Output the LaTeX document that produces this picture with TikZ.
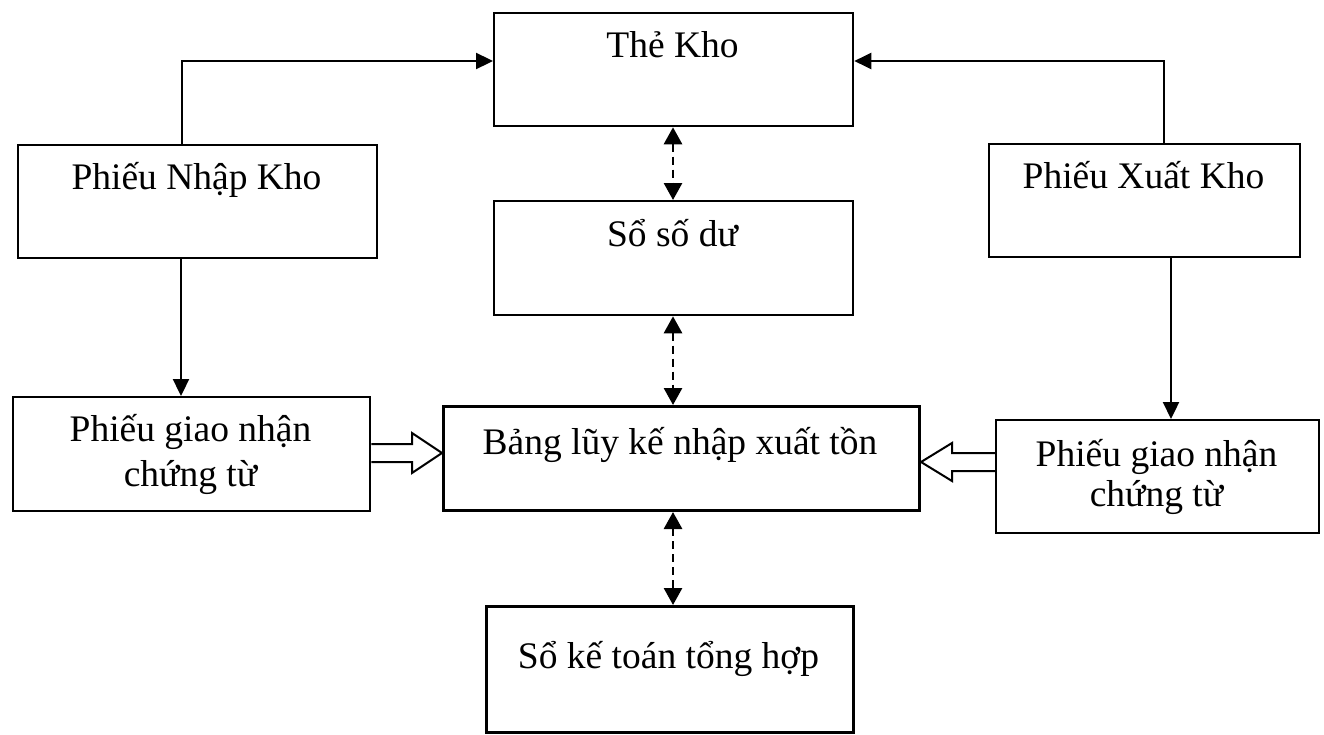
\documentclass[tikz,border=0pt]{standalone}
\usepackage{fontspec}
\setmainfont{Liberation Serif}
\usetikzlibrary{arrows.meta,calc}
\begin{document}
\begin{tikzpicture}[x=1pt,y=-1pt,
  box/.style={draw,line width=2.3pt,rectangle,inner sep=0pt,anchor=north west},
  heavy/.style={line width=3pt},
  lbl/.style={font=\fontsize{37.5}{44}\selectfont,anchor=base,inner sep=0pt},
  arr/.style={line width=2.3pt,-{Triangle[length=17pt,width=16pt]}},
  darr/.style={line width=2.8pt,dash pattern=on 8pt off 5pt,
    {Triangle[length=17pt,width=18pt]}-{Triangle[length=17pt,width=18pt]}},
  hollow/.style={draw,line width=2pt,line join=miter}]
\useasboundingbox (0,0) rectangle (1324,734);

% boxes
\node[box,minimum width=359pt,minimum height=113pt] (tk)   at (493,12)  {};
\node[box,minimum width=359pt,minimum height=113pt] (pnk)  at (17,144)  {};
\node[box,minimum width=311pt,minimum height=113pt] (pxk)  at (988,143) {};
\node[box,minimum width=359pt,minimum height=114pt] (sdu)  at (493,200) {};
\node[box,minimum width=357pt,minimum height=114pt] (pgl)  at (12,396)  {};
\node[box,heavy,minimum width=476pt,minimum height=104pt] (bang) at (442,405) {};
\node[box,minimum width=323pt,minimum height=113pt] (pgr)  at (995,419) {};
\node[box,heavy,minimum width=367pt,minimum height=126pt] (skt)  at (485,605) {};

% labels
\node[lbl] (ttk)   at (672.5,57)  {Thẻ Kho};
\node[lbl] (tpnk)  at (196.5,189) {Phiếu Nhập Kho};
\node[lbl] (tpxk)  at (1143.5,188) {Phiếu Xuất Kho};
\node[lbl] (tsdu)  at (672.5,246) {Sổ số dư};
\node[lbl] (tpgl1) at (190.5,441) {Phiếu giao nhận};
\node[lbl] (tpgl2) at (190.5,486) {chứng từ};
\node[lbl] (tbang) at (680,454)   {Bảng lũy kế nhập xuất tồn};
\node[lbl] (tpgr1) at (1156.5,466) {Phiếu giao nhận};
\node[lbl] (tpgr2) at (1156.5,506) {chứng từ};
\node[lbl] (tskt)  at (668.5,668) {Sổ kế toán tổng hợp};

% receipts and issues posted to the stock card
\draw[arr] (pnk.north -| 182,0) |- (tk.west |- 0,61);
\draw[arr] (pxk.north -| 1164,0) |- (tk.east |- 0,61);

% slips handed over with the documents
\draw[arr] (pnk.south -| 181,0) -- (pgl.north -| 181,0);
\draw[arr] (pxk.south -| 1171,0) -- (pgr.north -| 1171,0);

% reconciliation links
\draw[darr] (tk.south -| 673,0)   -- (sdu.north -| 673,0);
\draw[darr] (sdu.south -| 673,0)  -- (bang.north -| 673,0);
\draw[darr] (bang.south -| 673,0) -- (skt.north -| 673,0);

% hollow block arrows into the cumulative table
\draw[hollow] (pgl.east |- 0,444) -- (412,444) -- (412,433) -- (bang.west |- 0,453)
  -- (412,473) -- (412,462) -- (pgl.east |- 0,462);
\draw[hollow] (pgr.west |- 0,453) -- (952,453) -- (952,443) -- (bang.east |- 0,462)
  -- (952,481) -- (952,471) -- (pgr.west |- 0,471);
\end{tikzpicture}
\end{document}
